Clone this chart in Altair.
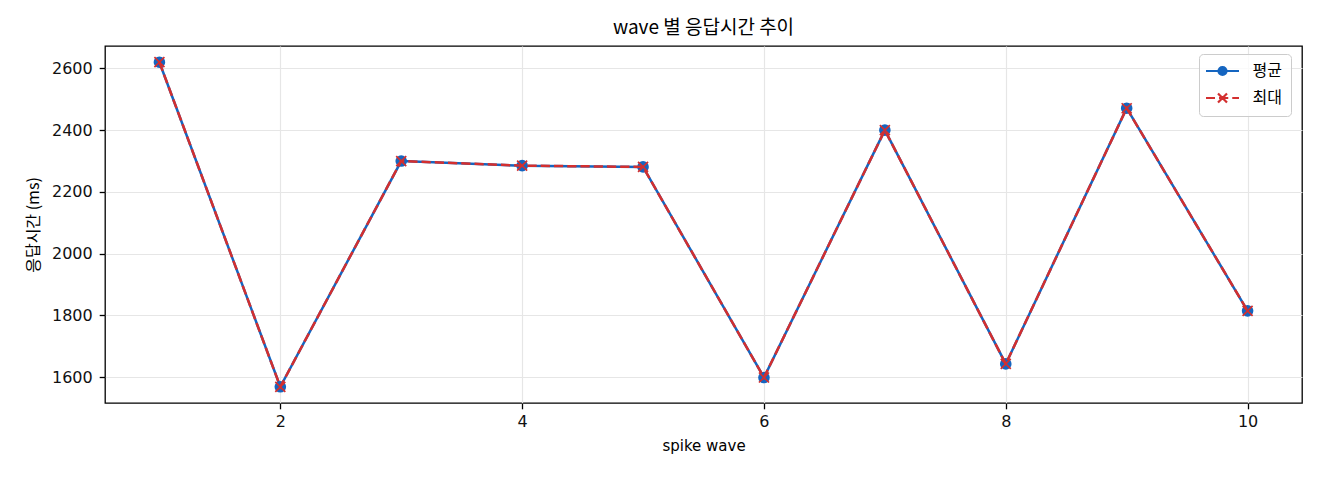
import altair as alt
import pandas as pd

# wave 별 응답시간 (평균 / 최대는 값이 같아서 선이 겹친다)
waves = [1, 2, 3, 4, 5, 6, 7, 8, 9, 10]
avg_ms = [2620, 1569, 2300, 2285, 2281, 1599, 2400, 1643, 2471, 1815]
max_ms = [2620, 1569, 2300, 2285, 2281, 1599, 2400, 1643, 2471, 1815]
series = ["평균", "최대"]
x_ticks = [2, 4, 6, 8, 10]
y_ticks = [1600, 1800, 2000, 2200, 2400, 2600]

BLUE = "#1565c0"
RED = "#d32f2f"
KR = "Noto Sans CJK KR"

# marker / legend handle shapes (unit = sqrt(size)/2 px)
X_PATH = "M-1,-1L1,1M-1,1L1,-1"
SYM_AVG = "M-3.3,0H3.3M0.8,0A0.8,0.8,0,1,1,-0.8,0A0.8,0.8,0,1,1,0.8,0Z"
SYM_MAX = ("M-3.3,0H-1.5M-0.7,0H1.15M1.95,0H3.3"
           "M-0.9,-0.9L0.9,0.9M-0.9,0.9L0.9,-0.9")

df = pd.DataFrame({
    "wave": waves * 2,
    "ms": avg_ms + max_ms,
    "series": [series[0]] * len(waves) + [series[1]] * len(waves),
})

base = alt.Chart(df).encode(
    x=alt.X("wave:Q", title="spike wave",
            scale=alt.Scale(domain=[0.55, 10.45], nice=False, zero=False),
            axis=alt.Axis(values=x_ticks, format="d", labelPadding=5,
                          titleFont="DejaVu Sans", titleFontSize=15, titlePadding=9)),
    y=alt.Y("ms:Q", title="응답시간 (ms)",
            scale=alt.Scale(domain=[1516.5, 2672.5], nice=False, zero=False),
            axis=alt.Axis(values=y_ticks, format="d", labelPadding=7,
                          titleFont=KR, titleFontSize=16, titlePadding=10)),
)

avg = base.transform_filter(alt.datum.series == series[0])
mx = base.transform_filter(alt.datum.series == series[1])

avg_line = avg.mark_line(color=BLUE, strokeWidth=2.5)
avg_pts = avg.mark_point(shape="circle", filled=True, size=135, color=BLUE, opacity=1)
max_line = mx.mark_line(color=RED, strokeWidth=2.5, strokeDash=[9.25, 4])
max_pts = mx.mark_point(shape=X_PATH, filled=False, size=100, color=RED,
                        strokeWidth=1.7, opacity=1)

leg = alt.Legend(title=None, orient="none", legendX=1094, legendY=8, padding=9,
                 symbolSize=100, symbolStrokeWidth=2.2, symbolOffset=6.5,
                 labelOffset=22, rowPadding=9, labelFont=KR, labelFontSize=16,
                 labelColor="black", fillColor="rgba(255,255,255,0.8)",
                 strokeColor="#cccccc", cornerRadius=4)

legend_layer = base.transform_filter("false").mark_point(opacity=1, strokeWidth=2.2).encode(
    shape=alt.Shape("series:N", scale=alt.Scale(domain=series, range=[SYM_AVG, SYM_MAX]),
                    legend=leg),
    fill=alt.Fill("series:N", scale=alt.Scale(domain=series, range=[BLUE, RED]), legend=leg),
    stroke=alt.Stroke("series:N", scale=alt.Scale(domain=series, range=[BLUE, RED]),
                      legend=leg),
)

chart = (
    alt.layer(avg_line, avg_pts, max_line, max_pts, legend_layer)
    .properties(
        width=1197, height=357,
        padding={"left": 97, "top": 38, "right": 10, "bottom": 69},
        autosize=alt.AutoSizeParams(type="none"),
        title=alt.TitleParams("wave 별 응답시간 추이", font=KR, fontSize=19,
                              fontWeight="normal", color="black", anchor="middle",
                              frame="group", offset=8),
    )
    .configure_view(stroke="black", strokeWidth=1.3)
    .configure_axis(domain=False, grid=True, gridColor="#e6e6e6", gridWidth=1.2,
                    tickColor="black", tickSize=5.8, tickWidth=1.3,
                    labelColor="#111111", labelFont="DejaVu Sans", labelFontSize=16,
                    titleColor="black", titleFontWeight="normal")
)

chart.save("out.html", embed_options={"renderer": "svg", "actions": False})
